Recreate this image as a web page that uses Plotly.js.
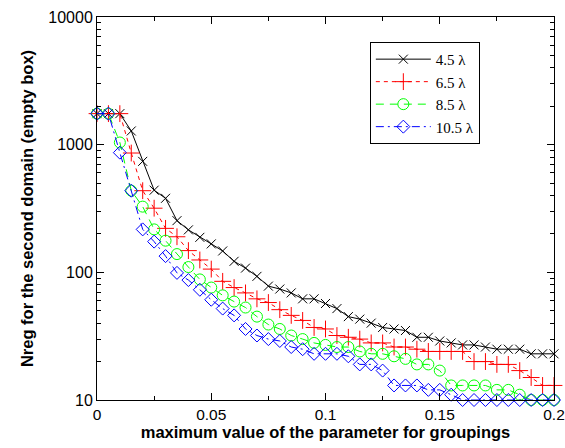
<!DOCTYPE html>
<html>
<head>
<meta charset="utf-8">
<script src="https://cdn.plot.ly/plotly-3.0.1.min.js"></script>
<style>html,body{margin:0;padding:0;background:#fff;}#chart{width:565px;height:448px;}</style>
</head>
<body>
<div id="chart"></div>
<script>
const xVals = [0,0.005,0.01,0.015,0.02,0.025,0.03,0.035,0.04,0.045,0.05,0.055,0.06,0.065,0.07,0.075,0.08,0.085,0.09,0.095,0.1,0.105,0.11,0.115,0.12,0.125,0.13,0.135,0.14,0.145,0.15,0.155,0.16,0.165,0.17,0.175,0.18,0.185,0.19,0.195,0.2];
const seriesNames = ["4.5 λ","6.5 λ","8.5 λ","10.5 λ"];
const y45 = [1750,1750,1750,1280,740,440,380,254,215,188,167,147,122,108,93,78,74,69,62,62,57,52,45,43,40,37,36,35,31,31,29,28,27,27,26,25,25,25,23,23,23];
const y65 = [1750,1750,1750,860,436,318,221,190,148,125,106,85,76,69,62,58,51,46,42,37,36,32,31,30,28,28,26,26,25,24,24,24,24,20,20,19,19,17,15,13,13];
const y85 = [1750,1750,1040,436,327,217,177,139,110,88,76,66,59,53,45,39,36,32,30,28,27,26,26,24,23,23,22,21,19,19,17,13,13,13,13,12,12,11,10,10,10];
const y105 = [1750,1750,866,436,217,174,134,99,87,73,61,52,46,36,32,30,29,26,25,23,23,23,22,19,19,17,13,13,13,12,12,11,10,10,10,10,10,10,10,10,10];
const xTickVals = [0,0.05,0.1,0.15,0.2];
const xTickText = ["0","0.05","0.1","0.15","0.2"];
const yTickVals = [10,100,1000,10000];
const yTickText = ["10","100","1000","10000"];

const styles = [
  {color:"#000000", symbol:"x-thin-open", size:9, dash:"solid"},
  {color:"#ff0000", symbol:"cross-thin-open", size:12, dash:"4px,4px"},
  {color:"#00ff00", symbol:"circle-open", size:11, dash:"8px,6px"},
  {color:"#0000ff", symbol:"diamond-open", size:10, dash:"8px,4px,2px,4px"}
];
const ys = [y45,y65,y85,y105];
const traces = ys.map((y,i)=>({
  x: xVals, y: y, name: seriesNames[i], type:"scatter", mode:"lines+markers",
  cliponaxis:false,
  line:{color:styles[i].color, width:1, dash:styles[i].dash},
  marker:{symbol:styles[i].symbol, size:styles[i].size, color:styles[i].color, line:{color:styles[i].color, width:1}}
}));

const yMinor = [];
[10,100,1000].forEach(d=>{for(let k=2;k<=9;k++) yMinor.push(d*k);});

const layout = {
  width:565, height:448,
  margin:{l:97, r:11, t:17, b:48},
  paper_bgcolor:"#fff", plot_bgcolor:"#fff",
  font:{family:"Liberation Sans, Arial, sans-serif", size:16, color:"#000"},
  showlegend:true,
  legend:{x:0.597, y:0.935, xanchor:"left", yanchor:"top", bgcolor:"#fff", bordercolor:"#000", borderwidth:1,
    font:{family:"Liberation Serif, Times New Roman, serif", size:15, color:"#000"}, itemwidth:55, tracegroupgap:0},
  xaxis:{range:[0,0.2], tickvals:xTickVals, ticktext:xTickText, ticks:"inside", ticklen:7, tickcolor:"#000",
    showline:true, linecolor:"#000", linewidth:1, mirror:"allticks", showgrid:false, zeroline:false,
    ticklabeloverflow:"allow",
    minor:{tickvals:[0.025,0.075,0.125,0.175], ticks:"inside", ticklen:4, tickcolor:"#000", showgrid:false},
    tickfont:{size:15.5},
    title:{text:"<b>maximum value of the parameter for groupings</b>", font:{size:16.5}, standoff:3}},
  yaxis:{type:"log", range:[1,4], tickvals:yTickVals, ticktext:yTickText, ticks:"inside", ticklen:7, tickcolor:"#000",
    showline:true, linecolor:"#000", linewidth:1, mirror:"allticks", showgrid:false, zeroline:false,
    minor:{tickvals:yMinor, ticks:"inside", ticklen:4, tickcolor:"#000", showgrid:false},
    tickfont:{size:16},
    title:{text:"<b>Nreg for the second domain (empty box)</b>", font:{size:16.5}, standoff:10}}
};
Plotly.newPlot("chart", traces, layout, {staticPlot:true, displayModeBar:false});
</script>
</body>
</html>
